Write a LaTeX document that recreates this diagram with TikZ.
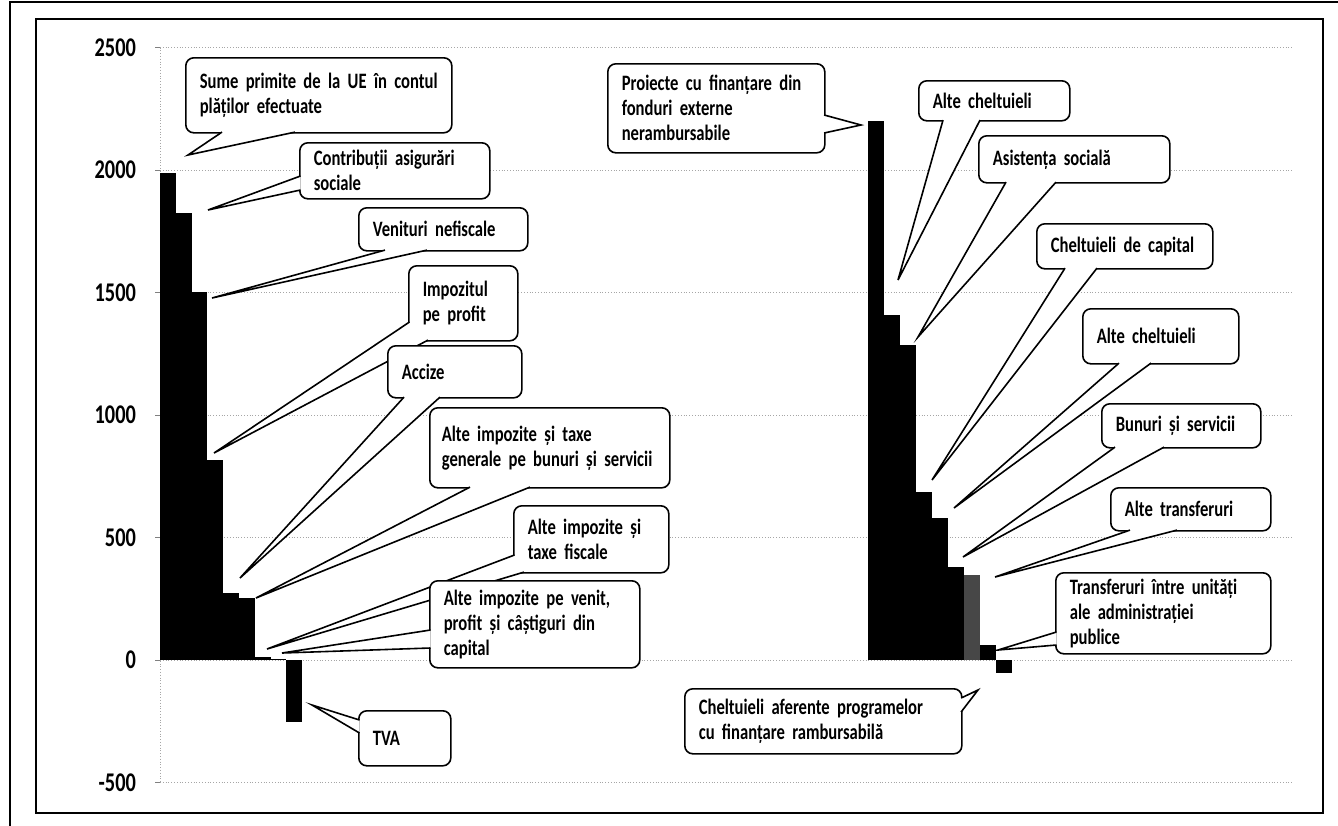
\documentclass[tikz,border=0pt]{standalone}
\usepackage{fontspec}
\setmainfont{Carlito}[FakeStretch=0.755]
\usetikzlibrary{calc}
% white wedge from a box edge to a tip
\newcommand*\callptr[3]{%
   \fill[white] (#1) -- (#2) -- (#3) -- cycle;
   \draw[line width=0.8pt] (#1) -- (#2) -- (#3);}

\begin{document}
\begin{tikzpicture}[x=0.5pt,y=-0.5pt,
     callbox/.style={draw,fill=white,rounded corners=4pt,line width=0.8pt,
        align=left,inner xsep=7pt,inner ysep=0pt,anchor=north west,
        font=\bfseries\fontsize{11}{12.5}\selectfont},
     grid/.style={gray!70,line width=0.4pt,densely dotted}
     ]
   \useasboundingbox (0,0) rectangle (1338,825);
   \draw[line width=1.2pt] (10,830)--(10,2)--(1340,2);
   \draw[line width=1pt] (36,19) rectangle (1323,813);

   % value axis: 500 units = 122.5, zero at 660
   \foreach \v [count=\k, evaluate=\v as \y using 660-0.245*(\v)] in {2500,2000,...,-500}
   {
     \draw[grid] (160,\y) -- (1292,\y);
     \draw[gray] (155,\y) -- (160,\y);
     \node[anchor=east,font=\bfseries\fontsize{13.5}{15}\selectfont] (ylab\k) at (143,\y) {\v};
   }
   \draw[grid] (160,47.5) -- (160,782.5);

   % revenue bars
   \foreach \i/\v [evaluate=\i as \x using 160+15.8*\i]
      in {0/1988,1/1824,2/1502,3/816,4/273,5/253,6/12,7/5,8/-252}
     \fill (\x,660) rectangle (\x+15.8,{660-0.245*(\v)});
   % expenditure bars
   \foreach \i/\v [evaluate=\i as \x using 868+16*\i]
      in {0/2200,1/1408,2/1286,3/686,4/580,5/380,7/61,8/-53}
     \fill (\x,660) rectangle (\x+16,{660-0.245*(\v)});
   \fill[black!72] (948+16,660) rectangle (964+16,{660-0.245*347});

   \coordinate (tSume) at (188,155);
   \coordinate (tContrib) at (208,210);
   \coordinate (tNefisc) at (212,298);
   \coordinate (tProfit) at (214,453);
   \coordinate (tAccize) at (240,578);
   \coordinate (tGenerale) at (256,598);
   \coordinate (tFiscale) at (267,649);
   \coordinate (tVenit) at (282,653);
   \coordinate (tTVA) at (312,705);
   \coordinate (tProiecte) at (861,125);
   \coordinate (tAlteA) at (898,280);
   \coordinate (tAsist) at (918,337);
   \coordinate (tCapital) at (932,480);
   \coordinate (tAlteB) at (954,508);
   \coordinate (tBunuri) at (963,557);
   \coordinate (tTransf) at (995,577);
   \coordinate (tUnitati) at (998,650);
   \coordinate (tAferente) at (978,690);

   % left callouts
   \node[callbox,text width=119pt,minimum height=37.5pt] (sume) at (185,57)
      {Sume primite de la UE în contul\\plăților efectuate};
   \callptr{$(sume.south west)+(37,-1.5)$}{tSume}{$(sume.south west)+(110,-1.5)$}
   \node[callbox,text width=81pt,minimum height=28pt] (contrib) at (299,142)
      {Contribuții asigurări\\sociale};
   \callptr{$(contrib.north west)+(1.5,34)$}{tContrib}{$(contrib.north west)+(1.5,48)$}
   \node[callbox,text width=70.5pt,minimum height=21.5pt] (nefisc) at (358,207)
      {Venituri nefiscale};
   \callptr{$(nefisc.south west)+(27,-1.5)$}{tNefisc}{$(nefisc.south west)+(69,-1.5)$}
   \node[callbox,text width=40.5pt,minimum height=37.5pt] (profit) at (408,265)
      {Impozitul\\pe profit};
   \callptr{$(profit.north west)+(1.5,57)$}{tProfit}{$(profit.south west)+(20,-1.5)$}
   \node[callbox,text width=53pt,minimum height=26pt] (accize) at (387,345)
      {Accize};
   \callptr{$(accize.south west)+(17,-1.5)$}{tAccize}{$(accize.south west)+(53,-1.5)$}
   \node[callbox,inner xsep=6pt,text width=108pt,minimum height=40pt] (generale) at (429,407)
      {Alte impozite și taxe\\generale pe bunuri și servicii};
   \callptr{$(generale.south west)+(41,-1.5)$}{tGenerale}{$(generale.south west)+(101,-1.5)$}
   \node[callbox,text width=63.5pt,minimum height=33.5pt] (fiscale) at (513,505)
      {Alte impozite și\\taxe fiscale};
   \callptr{$(fiscale.north west)+(1.5,50)$}{tFiscale}{$(fiscale.south west)+(11,-1.5)$}
   \node[callbox,text width=91pt,minimum height=43.5pt] (venit) at (429,580)
      {Alte impozite pe venit,\\profit și câștiguri din\\capital};
   \callptr{$(venit.north west)+(1.5,50)$}{tVenit}{$(venit.north west)+(1.5,68)$}
   \node[callbox,text width=32pt,minimum height=27.5pt] (tva) at (358,710)
      {TVA};
   \callptr{$(tva.north west)+(1.5,10)$}{tTVA}{$(tva.north west)+(1.5,23)$}

   % right callouts
   \node[callbox,text width=94.5pt,minimum height=44.5pt] (proiecte) at (607,63)
      {Proiecte cu finanțare din\\fonduri externe\\nerambursabile};
   \callptr{$(proiecte.north east)+(-1.5,52)$}{tProiecte}{$(proiecte.north east)+(-1.5,70)$}
   \node[callbox,text width=61.5pt,minimum height=20pt] (alteA) at (918,80)
      {Alte cheltuieli};
   \callptr{$(alteA.south west)+(25,-1.5)$}{tAlteA}{$(alteA.south west)+(62,-1.5)$}
   \node[callbox,text width=81.5pt,minimum height=23.5pt] (asist) at (978,135)
      {Asistența socială};
   \callptr{$(asist.south west)+(28,-1.5)$}{tAsist}{$(asist.south west)+(78,-1.5)$}
   \node[callbox,text width=74pt,minimum height=22.5pt] (capital) at (1036,223)
      {Cheltuieli de capital};
   \callptr{$(capital.south west)+(29,-1.5)$}{tCapital}{$(capital.south west)+(61,-1.5)$}
   \node[callbox,text width=64pt,minimum height=27.5pt] (alteB) at (1082,308)
      {Alte cheltuieli};
   \callptr{$(alteB.south west)+(37,-1.5)$}{tAlteB}{$(alteB.south west)+(69,-1.5)$}
   \node[callbox,text width=65.5pt,minimum height=22pt] (bunuri) at (1101,403)
      {Bunuri și servicii};
   \callptr{$(bunuri.south west)+(14,-1.5)$}{tBunuri}{$(bunuri.south west)+(63,-1.5)$}
   \node[callbox,text width=66pt,minimum height=21.5pt] (transf) at (1110,487)
      {Alte transferuri};
   \callptr{$(transf.south west)+(20,-1.5)$}{tTransf}{$(transf.south west)+(67,-1.5)$}
   \node[callbox,text width=93.5pt,minimum height=40.5pt] (unitati) at (1055,572)
      {Transferuri între unități\\ale administrației\\publice};
   \callptr{$(unitati.north west)+(1.5,60)$}{tUnitati}{$(unitati.north west)+(1.5,73)$}
   \node[callbox,text width=124.5pt,minimum height=32.5pt] (aferente) at (684,688)
      {Cheltuieli aferente programelor\\cu finanțare rambursabilă};
   \callptr{$(aferente.north east)+(-1.5,10)$}{tAferente}{$(aferente.north east)+(-1.5,24)$}
\end{tikzpicture}
\end{document}
